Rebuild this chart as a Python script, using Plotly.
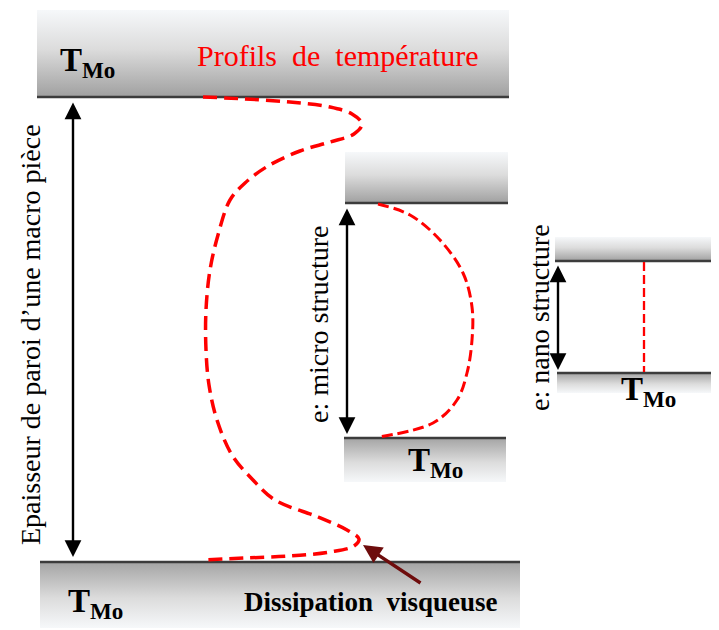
import plotly.graph_objects as go

# ---- data (diagram geometry in pixel units of the drawing) ----
macro_x = [203, 245, 290, 330, 352, 362, 354, 330, 300, 268, 245, 230, 218, 210, 206, 206, 209, 217, 232, 253, 275, 318, 347, 359, 354, 330, 290, 245, 203]
macro_y = [97, 99, 102, 107, 114, 124, 134, 142, 151, 166, 183, 200, 235, 270, 310, 350, 385, 420, 455, 480, 500, 517, 530, 539, 546, 552, 556, 558, 560]
micro_x = [378, 410, 440, 463, 472, 472, 467, 457, 433, 378]
micro_y = [204, 215, 240, 273, 307, 340, 373, 400, 423, 437]
nano_x = [644, 644]
nano_y = [262, 372]

# plates: (x0, x1, y0, y1, line_y, gradient light->dark direction)
plates = [
    (37, 509, 10, 97, 97, "down"),
    (40, 520, 562, 628, 562, "up"),
    (345, 508, 152, 203, 203, "down"),
    (344, 506, 438, 482, 438, "up"),
    (555, 719, 237, 261, 261, "down"),
    (557, 719, 373, 393, 373, "up"),
]

fig = go.Figure()

for (x0, x1, y0, y1, ly, d) in plates:
    if d == "down":
        cs = [[0, "#f6f8fa"], [0.45, "#dcdcdc"], [1, "#a0a0a0"]]
    else:
        cs = [[0, "#a4a4a4"], [0.55, "#dcdcdc"], [1, "#f6f8fa"]]
    fig.add_trace(go.Scatter(
        x=[x0, x1, x1, x0, x0], y=[y0, y0, y1, y1, y0],
        mode="none", fill="toself",
        fillgradient=dict(type="vertical", colorscale=cs, start=y0, stop=y1),
        hoverinfo="skip", showlegend=False))
    fig.add_trace(go.Scatter(
        x=[x0, x1], y=[ly, ly], mode="lines",
        line=dict(color="#3c3c3c", width=2.5),
        hoverinfo="skip", showlegend=False))

fig.add_trace(go.Scatter(x=macro_x, y=macro_y, mode="lines",
                         line=dict(color="#ff0000", width=3.5, dash="14px,7px", shape="spline"),
                         hoverinfo="skip", showlegend=False))
fig.add_trace(go.Scatter(x=micro_x, y=micro_y, mode="lines",
                         line=dict(color="#ff0000", width=3, dash="11px,5px", shape="spline"),
                         hoverinfo="skip", showlegend=False))
fig.add_trace(go.Scatter(x=nano_x, y=nano_y, mode="lines",
                         line=dict(color="#ff0000", width=2.3, dash="9px,4px"),
                         hoverinfo="skip", showlegend=False))

serif = "Liberation Serif, Times New Roman, serif"
tmo = "<b>T</b><sub><b>Mo</b></sub>"

annotations = []

def txt(x, y, text, size, color="black", angle=0, xanchor="center"):
    annotations.append(dict(x=x, y=y, xref="x", yref="y", text=text, showarrow=False,
                            font=dict(family=serif, size=size, color=color),
                            textangle=angle, xanchor=xanchor, yanchor="middle"))

txt(87, 62, tmo, 33)
txt(95, 603, tmo, 33)
txt(435, 462, tmo, 33)
txt(648, 391, tmo, 33)
txt(338, 55, "Profils\u00a0\u00a0de\u00a0\u00a0température", 30, color="#ff0000")
txt(371, 602, "<b>Dissipation\u00a0\u00a0visqueuse</b>", 27)
txt(30, 335, "Epaisseur de paroi d\u2019une macro pièce", 28, angle=-90)
txt(318, 325, "e: micro structure", 28, angle=-90)
txt(539, 318, "e: nano structure", 28, angle=-90)

def arrow(x, ya, yb, both=True, color="black", width=2.4):
    annotations.append(dict(x=x, y=yb, ax=x, ay=ya, xref="x", yref="y", axref="x", ayref="y",
                            text="", showarrow=True, arrowhead=2, arrowsize=1.4,
                            arrowwidth=width, arrowcolor=color,
                            arrowside="end+start" if both else "end"))

arrow(73, 101, 557)
arrow(347, 207, 434)
arrow(558, 264, 370)
annotations.append(dict(x=363, y=545, ax=422, ay=584, xref="x", yref="y", axref="x", ayref="y",
                        text="", showarrow=True, arrowhead=2, arrowsize=1.1,
                        arrowwidth=3.4, arrowcolor="#6e0c0c"))

# page body has an 8px default margin; shift ranges so drawing coords equal screen pixels
off = 8
fig.update_layout(
    width=719, height=630,
    margin=dict(l=0, r=0, t=0, b=0),
    paper_bgcolor="white", plot_bgcolor="white",
    xaxis=dict(range=[off, 719 + off], visible=False, fixedrange=True),
    yaxis=dict(range=[630 + off, off], visible=False, fixedrange=True),
    annotations=annotations,
    showlegend=False,
)

fig.write_html("out.html")
